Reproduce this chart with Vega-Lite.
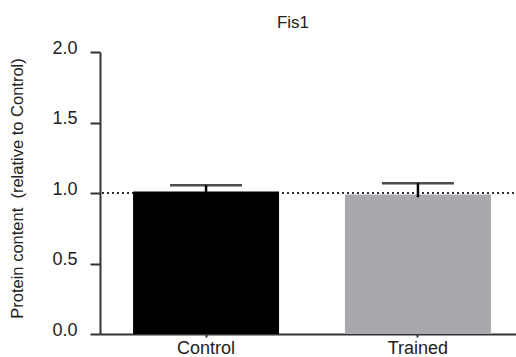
{
  "$schema": "https://vega.github.io/schema/vega-lite/v6.json",
  "autosize": "none",
  "width": 424,
  "height": 282,
  "padding": {"left": 100, "top": 52, "right": 0, "bottom": 23},
  "background": "white",
  "config": {
    "font": "Liberation Sans",
    "view": {"stroke": null}
  },
  "title": {
    "text": "Fis1",
    "fontSize": 17,
    "fontWeight": "normal",
    "color": "#222",
    "anchor": "middle",
    "dx": -19,
    "offset": 7
  },
  "data": {
    "values": [
      {"group": "Control", "mean": 1.01, "lower": 0.965, "upper": 1.055},
      {"group": "Trained", "mean": 0.99, "lower": 0.97, "upper": 1.07}
    ]
  },
  "encoding": {
    "x": {
      "field": "group",
      "type": "nominal",
      "sort": null,
      "scale": {"paddingInner": 0.311, "paddingOuter": 0.156},
      "axis": {
        "title": null,
        "labelAngle": 0,
        "labelFontSize": 18,
        "labelColor": "#222",
        "labelPadding": 2,
        "tickSize": 3,
        "tickWidth": 2,
        "tickColor": "#333",
        "domainColor": "#333",
        "domainWidth": 2
      }
    }
  },
  "layer": [
    {
      "mark": {"type": "rule", "strokeDash": [2, 3], "strokeWidth": 1.5, "color": "#222"},
      "encoding": {"y": {"datum": 1, "type": "quantitative"}, "x": null}
    },
    {
      "mark": {"type": "bar"},
      "encoding": {
        "y": {
          "field": "mean",
          "type": "quantitative",
          "scale": {"domain": [0, 2]},
          "axis": {
            "title": "Protein content\u00a0 (relative to Control)",
            "titleFontSize": 16.5,
            "titleFontWeight": "normal",
            "titleColor": "#222",
            "titleX": -83,
            "titleY": 136,
            "titleAngle": -90,
            "titleAlign": "center",
            "titleBaseline": "middle",
            "values": [0, 0.5, 1, 1.5, 2],
            "format": ".1f",
            "labelFontSize": 18,
            "labelColor": "#222",
            "labelBaseline": "alphabetic",
            "labelOffset": 1,
            "labelPadding": 13,
            "tickSize": 10,
            "tickWidth": 2,
            "tickColor": "#333",
            "domainColor": "#333",
            "domainWidth": 2,
            "grid": false
          }
        },
        "color": {
          "field": "group",
          "type": "nominal",
          "scale": {"domain": ["Control", "Trained"], "range": ["#000000", "#a8a9ad"]},
          "legend": null
        }
      }
    },
    {
      "mark": {"type": "rule", "color": "#000", "strokeWidth": 2.5},
      "encoding": {
        "y": {"field": "lower", "type": "quantitative"},
        "y2": {"field": "upper"}
      }
    },
    {
      "mark": {"type": "tick", "color": "#000", "thickness": 2.5, "size": 72, "orient": "horizontal"},
      "encoding": {
        "y": {"field": "upper", "type": "quantitative"}
      }
    }
  ]
}
